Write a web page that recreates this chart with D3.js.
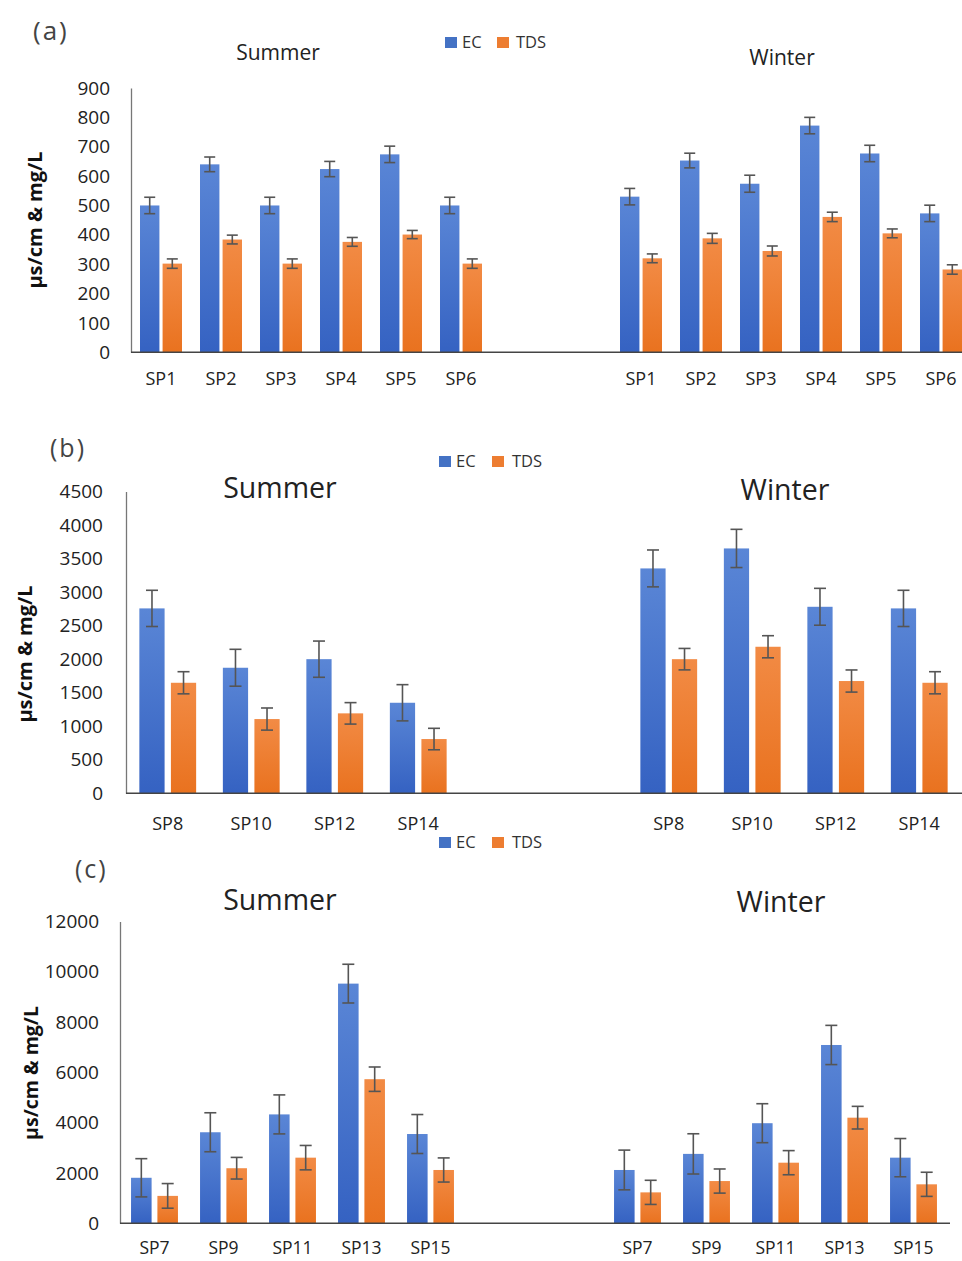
<!DOCTYPE html>
<html><head><meta charset="utf-8">
<script src="https://cdn.jsdelivr.net/npm/d3@7"></script>
<style>
body{margin:0;background:#fff}
svg{display:block}
text{font-family:"Open Sans",sans-serif}
</style>
</head><body>
<svg id="chart" width="962" height="1261"></svg>
<script>
// ---------- data ----------
const seriesNames = ["EC", "TDS"];
const seasons = ["Summer", "Winter"];
const yAxisTitle = "µs/cm & mg/L";

// Panel (a)
const sitesA = ["SP1", "SP2", "SP3", "SP4", "SP5", "SP6"];
const ecSummerA = [500, 640, 500, 624, 674, 500];
const tdsSummerA = [302, 384, 302, 376, 401, 302];
const ecWinterA = [530, 653, 574, 772, 677, 473];
const tdsWinterA = [320, 388, 345, 461, 405, 282];
const ecSummerErrA = [28, 25, 28, 26, 28, 28];
const tdsSummerErrA = [16, 15, 16, 15, 14, 16];
const ecWinterErrA = [28, 25, 29, 28, 28, 28];
const tdsWinterErrA = [15, 17, 17, 16, 15, 16];
const ticksA = [0, 100, 200, 300, 400, 500, 600, 700, 800, 900];

// Panel (b)
const sitesB = ["SP8", "SP10", "SP12", "SP14"];
const ecSummerB = [2757, 1872, 2000, 1350];
const tdsSummerB = [1648, 1107, 1192, 809];
const ecWinterB = [3353, 3651, 2781, 2757];
const tdsWinterB = [2000, 2185, 1674, 1648];
const ecSummerErrB = [270, 275, 270, 270];
const tdsSummerErrB = [165, 165, 160, 160];
const ecWinterErrB = [275, 285, 275, 270];
const tdsWinterErrB = [160, 165, 165, 165];
const ticksB = [0, 500, 1000, 1500, 2000, 2500, 3000, 3500, 4000, 4500];

// Panel (c)
const sitesC = ["SP7", "SP9", "SP11", "SP13", "SP15"];
const ecSummerC = [1810, 3620, 4330, 9530, 3550];
const tdsSummerC = [1090, 2190, 2610, 5730, 2120];
const ecWinterC = [2120, 2760, 3980, 7090, 2610];
const tdsWinterC = [1230, 1680, 2410, 4200, 1550];
const ecSummerErrC = [760, 775, 775, 770, 775];
const tdsSummerErrC = [490, 430, 485, 485, 480];
const ecWinterErrC = [790, 800, 775, 780, 760];
const tdsWinterErrC = [480, 480, 480, 450, 480];
const ticksC = [0, 2000, 4000, 6000, 8000, 10000, 12000];

// ---------- drawing ----------
const svg = d3.select("#chart");
svg.append("rect").attr("width", 962).attr("height", 1261).attr("fill", "#fff");

const defs = svg.append("defs");
function grad(id, c1, c2) {
  const g = defs.append("linearGradient").attr("id", id)
    .attr("x1", 0).attr("y1", 0).attr("x2", 0).attr("y2", 1);
  g.append("stop").attr("offset", "0%").attr("stop-color", c1);
  g.append("stop").attr("offset", "100%").attr("stop-color", c2);
}
grad("gEC", "#5a86d6", "#3562c2");
grad("gTDS", "#f28b45", "#e9721f");
const fills = {EC: "url(#gEC)", TDS: "url(#gTDS)"};
const legendColors = {EC: "#4472c4", TDS: "#ed7d31"};

function drawPanel(p) {
  const slots = [
    ...p.sites.map(s => "Summer|" + s),
    "gap|1", "gap|2",
    ...p.sites.map(s => "Winter|" + s)
  ];
  const x = d3.scaleBand().domain(slots).range(p.xr).padding(0);
  const y = d3.scaleLinear().domain([0, p.ticks[p.ticks.length - 1]]).range(p.yr);
  const bw = x.bandwidth();
  const x1 = d3.scaleBand().domain(seriesNames)
    .range([bw * p.gp, bw * (1 - p.gp)]).paddingInner(p.ip);

  const rows = [];
  p.sites.forEach((s, i) => {
    rows.push({slot: "Summer|" + s, key: "EC", v: p.ecS[i], e: p.ecSE[i]});
    rows.push({slot: "Summer|" + s, key: "TDS", v: p.tdsS[i], e: p.tdsSE[i]});
    rows.push({slot: "Winter|" + s, key: "EC", v: p.ecW[i], e: p.ecWE[i]});
    rows.push({slot: "Winter|" + s, key: "TDS", v: p.tdsW[i], e: p.tdsWE[i]});
  });

  const g = svg.append("g");

  // y axis
  const ya = g.append("g").attr("transform", `translate(${p.xr[0]},0)`)
    .call(d3.axisLeft(y).tickValues(p.ticks).tickSize(0).tickSizeOuter(0)
      .tickPadding(p.tpY).tickFormat(d3.format("d")));
  ya.attr("font-family", "Open Sans").attr("font-size", 19);
  ya.select(".domain").attr("stroke", "#777").attr("stroke-width", 1.3);
  ya.selectAll("text").attr("fill", "#222");

  // bars
  g.append("g").selectAll("rect").data(rows).join("rect")
    .attr("x", d => x(d.slot) + x1(d.key))
    .attr("y", d => y(d.v))
    .attr("width", x1.bandwidth())
    .attr("height", d => y(0) - y(d.v))
    .attr("fill", d => fills[d.key]);

  // error bars
  const eg = g.append("g").attr("stroke", "#555").attr("stroke-width", 1.6).attr("fill", "none");
  rows.forEach(d => {
    const cx = x(d.slot) + x1(d.key) + x1.bandwidth() / 2;
    const y1 = y(d.v + d.e), y2 = y(d.v - d.e);
    eg.append("line").attr("x1", cx).attr("x2", cx).attr("y1", y1).attr("y2", y2);
    eg.append("line").attr("x1", cx - p.cap).attr("x2", cx + p.cap).attr("y1", y1).attr("y2", y1);
    eg.append("line").attr("x1", cx - p.cap).attr("x2", cx + p.cap).attr("y1", y2).attr("y2", y2);
  });

  // x axis
  const xa = g.append("g").attr("transform", `translate(0,${y(0)})`)
    .call(d3.axisBottom(x).tickValues(slots.filter(s => !s.startsWith("gap")))
      .tickSize(0).tickPadding(p.tpX).tickFormat(d => d.split("|")[1]));
  xa.attr("font-family", "Open Sans").attr("font-size", p.xFont);
  xa.select(".domain").remove();
  xa.selectAll("text").attr("fill", "#222");
  g.append("line").attr("x1", p.xr[0]).attr("x2", p.axisEnd)
    .attr("y1", y(0)).attr("y2", y(0)).attr("stroke", "#444").attr("stroke-width", 1.6);

  // panel label
  g.append("text").attr("x", p.lab[0]).attr("y", p.lab[1]).text(p.label)
    .attr("font-size", p.lab[2]).attr("fill", "#444").attr("letter-spacing", 2);

  // season titles
  seasons.forEach((s, i) => {
    g.append("text").attr("x", p.titles[i][0]).attr("y", p.titles[i][1])
      .attr("text-anchor", "middle").attr("font-size", p.titleSize)
      .attr("fill", "#222").text(s);
  });

  // y title
  g.append("text").attr("transform", `translate(${p.yt[0]},${p.yt[1]}) rotate(-90)`)
    .attr("text-anchor", "middle").attr("dominant-baseline", "central")
    .attr("font-size", p.yt[2]).attr("font-weight", "bold").attr("fill", "#111")
    .text(yAxisTitle);

  // legend
  const lg = g.append("g");
  seriesNames.forEach((k, i) => {
    const L = p.legend[i];
    lg.append("rect").attr("x", L[0]).attr("y", p.legendY).attr("width", 12).attr("height", 11)
      .attr("fill", legendColors[k]);
    lg.append("text").attr("x", L[1]).attr("y", p.legendY + 11).attr("font-size", 16.5)
      .attr("fill", "#333").text(k);
  });
}

drawPanel({
  sites: sitesA, ecS: ecSummerA, tdsS: tdsSummerA, ecW: ecWinterA, tdsW: tdsWinterA,
  ecSE: ecSummerErrA, tdsSE: tdsSummerErrA, ecWE: ecWinterErrA, tdsWE: tdsWinterErrA,
  ticks: ticksA, xr: [131, 971], yr: [352.3, 88], axisEnd: 962,
  gp: 0.15, ip: 0.14, cap: 5.5, tpY: 21, tpX: 19.5, xFont: 18,
  label: "(a)", lab: [33, 40, 26],
  titles: [[278, 60], [782, 65]], titleSize: 21,
  yt: [34, 220, 20],
  legend: [[445, 462], [497, 516]], legendY: 37
});

drawPanel({
  sites: sitesB, ecS: ecSummerB, tdsS: tdsSummerB, ecW: ecWinterB, tdsW: tdsWinterB,
  ecSE: ecSummerErrB, tdsSE: tdsSummerErrB, ecWE: ecWinterErrB, tdsWE: tdsWinterErrB,
  ticks: ticksB, xr: [126, 961], yr: [793.3, 491.5], axisEnd: 962,
  gp: 0.16, ip: 0.2, cap: 6, tpY: 23, tpX: 23.5, xFont: 18,
  label: "(b)", lab: [50, 457, 25],
  titles: [[280, 498], [785, 500]], titleSize: 28.5,
  yt: [24, 654, 20],
  legend: [[439, 456], [492, 512]], legendY: 456
});

drawPanel({
  sites: sitesC, ecS: ecSummerC, tdsS: tdsSummerC, ecW: ecWinterC, tdsW: tdsWinterC,
  ecSE: ecSummerErrC, tdsSE: tdsSummerErrC, ecWE: ecWinterErrC, tdsWE: tdsWinterErrC,
  ticks: ticksC, xr: [120, 948], yr: [1223.3, 921.5], axisEnd: 950,
  gp: 0.16, ip: 0.22, cap: 6, tpY: 21, tpX: 18.5, xFont: 17.5,
  label: "(c)", lab: [75, 878, 25],
  titles: [[280, 910], [781, 912]], titleSize: 28.5,
  yt: [30, 1073, 19.5],
  legend: [[439, 456], [492, 512]], legendY: 837
});
</script>
</body></html>
